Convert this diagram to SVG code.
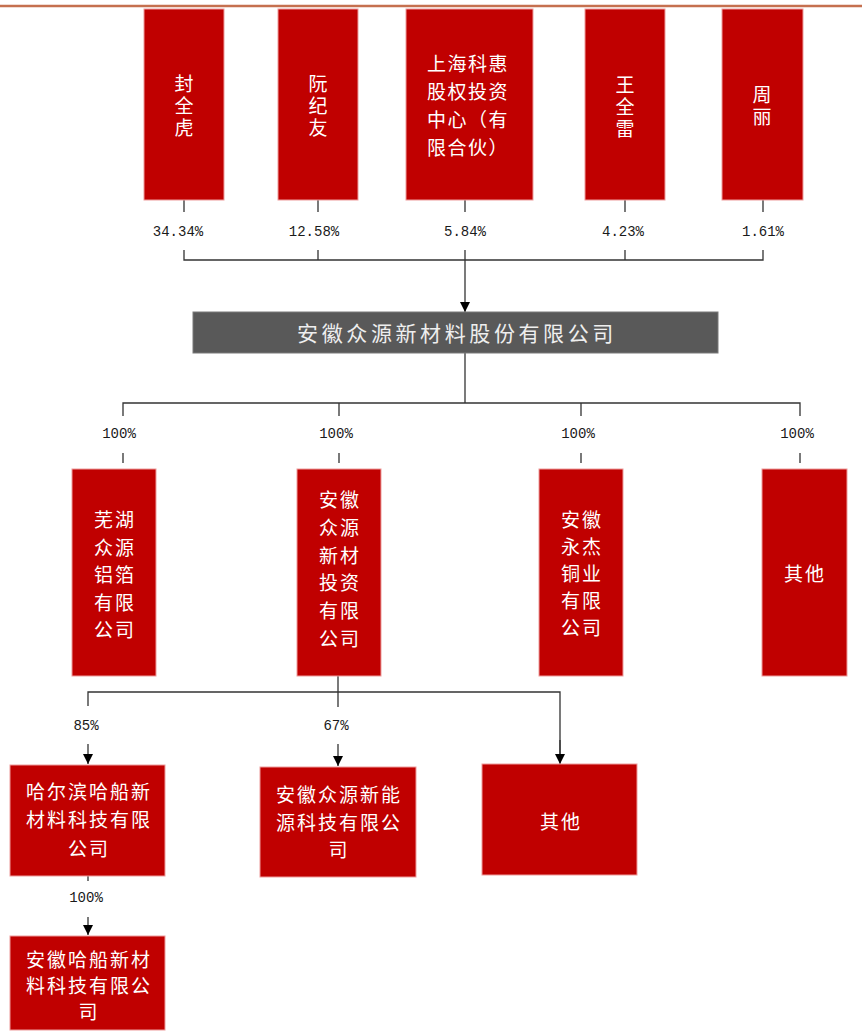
<svg xmlns="http://www.w3.org/2000/svg" width="862" height="1032" viewBox="0 0 862 1032">
<defs>
<marker id="arr" markerUnits="userSpaceOnUse" markerWidth="10" markerHeight="10" refX="10" refY="5" orient="auto">
<path d="M0,0 L10,5 L0,10 z" fill="#000"/>
</marker>
<style>
.red{fill:#C00000;stroke:#EE9C9C;stroke-width:1}
.gray{fill:#595959;stroke:#7a7a7a;stroke-width:1}
.cn{font-family:"Noto Sans CJK SC","Noto Sans",sans-serif;font-size:19px;fill:#FFFFFF;text-anchor:middle;dominant-baseline:central;letter-spacing:2px}
.big{font-family:"Noto Sans CJK SC","Noto Sans",sans-serif;font-size:21px;fill:#EEEEEE;text-anchor:middle;dominant-baseline:central;letter-spacing:3.6px}
.pct{font-family:"Liberation Mono",monospace;font-size:14px;fill:#1a1a1a;text-anchor:middle}
.ln{fill:none;stroke:#333;stroke-width:1.3}
</style>
</defs>
<rect width="862" height="1032" fill="#FFFFFF"/>
<line x1="0" y1="6" x2="862" y2="6" stroke="#C5704F" stroke-width="2.5"/>

<g id="connectors">
<path class="ln" d="M184,200 V212 M318,200 V212 M465,200 V212 M625,200 V212 M763,200 V212"/>
<path class="ln" d="M184,250 V260 H763 V250 M318,250 V260 M625,250 V260 M465,250 V260"/>
<line class="ln" x1="465" y1="260" x2="465" y2="312" marker-end="url(#arr)"/>
<path class="ln" d="M465,353 V403" stroke="#555" stroke-width="1.6"/>
<path class="ln" d="M123,416 V403 H800 V416 M339,403 V416 M581,403 V416"/>
<path class="ln" d="M123,453 V463 M339,453 V463 M581,453 V463 M800,453 V463"/>
<path class="ln" d="M338,676 V707 M88,706 V692 H560 V754"/>
<line class="ln" x1="560" y1="740" x2="560" y2="764" marker-end="url(#arr)"/>
<line class="ln" x1="88" y1="744" x2="88" y2="764" marker-end="url(#arr)"/>
<line class="ln" x1="338" y1="744" x2="338" y2="766" marker-end="url(#arr)"/>
<path class="ln" d="M88,876 V881"/>
<line class="ln" x1="88" y1="917" x2="88" y2="935" marker-end="url(#arr)"/>
<text class="pct" x="178" y="236">34.34%</text>
<text class="pct" x="314" y="236">12.58%</text>
<text class="pct" x="465" y="236">5.84%</text>
<text class="pct" x="623" y="236">4.23%</text>
<text class="pct" x="763" y="236">1.61%</text>
<text class="pct" x="119" y="438">100%</text>
<text class="pct" x="336" y="438">100%</text>
<text class="pct" x="578" y="438">100%</text>
<text class="pct" x="797" y="438">100%</text>
<text class="pct" x="86" y="730">85%</text>
<text class="pct" x="336" y="730">67%</text>
<text class="pct" x="86" y="902">100%</text>
</g>

<g id="n-fengquanhu">
<rect class="red" x="144" y="9" width="80" height="191"/>
<text class="cn" x="185"><tspan x="185" y="82">封</tspan><tspan x="185" y="104">全</tspan><tspan x="185" y="126">虎</tspan></text>
</g>
<g id="n-ruanjiyou">
<rect class="red" x="278" y="9" width="80" height="191"/>
<text class="cn" x="319"><tspan x="319" y="82">阮</tspan><tspan x="319" y="104">纪</tspan><tspan x="319" y="126">友</tspan></text>
</g>
<g id="n-kehui">
<rect class="red" x="406" y="9" width="127" height="191"/>
<text class="cn" style="text-anchor:start;letter-spacing:1.5px"><tspan x="427" y="62">上海科惠</tspan><tspan x="427" y="90">股权投资</tspan><tspan x="427" y="118">中心（有</tspan><tspan x="427" y="146">限合伙）</tspan></text>
</g>
<g id="n-wangquanlei">
<rect class="red" x="585" y="9" width="80" height="191"/>
<text class="cn"><tspan x="626" y="83">王</tspan><tspan x="626" y="105">全</tspan><tspan x="626" y="127">雷</tspan></text>
</g>
<g id="n-zhouli">
<rect class="red" x="722" y="9" width="81" height="191"/>
<text class="cn"><tspan x="763" y="93">周</tspan><tspan x="763" y="115">丽</tspan></text>
</g>

<g id="n-main">
<rect class="gray" x="193" y="312" width="525" height="41"/>
<text class="big" x="457" y="332">安徽众源新材料股份有限公司</text>
</g>

<g id="n-wuhu">
<rect class="red" x="72" y="469" width="84" height="207"/>
<text class="cn"><tspan x="115" y="518">芜湖</tspan><tspan x="115" y="545.5">众源</tspan><tspan x="115" y="573">铝箔</tspan><tspan x="115" y="600.5">有限</tspan><tspan x="115" y="628">公司</tspan></text>
</g>
<g id="n-touzi">
<rect class="red" x="297" y="469" width="84" height="207"/>
<text class="cn"><tspan x="340" y="498">安徽</tspan><tspan x="340" y="525.8">众源</tspan><tspan x="340" y="553.6">新材</tspan><tspan x="340" y="581.4">投资</tspan><tspan x="340" y="609.2">有限</tspan><tspan x="340" y="637">公司</tspan></text>
</g>
<g id="n-yongjie">
<rect class="red" x="539" y="469" width="84" height="207"/>
<text class="cn"><tspan x="582" y="518">安徽</tspan><tspan x="582" y="545">永杰</tspan><tspan x="582" y="572">铜业</tspan><tspan x="582" y="599">有限</tspan><tspan x="582" y="626">公司</tspan></text>
</g>
<g id="n-other1">
<rect class="red" x="762" y="469" width="85" height="207"/>
<text class="cn" x="805" y="572">其他</text>
</g>

<g id="n-harbin">
<rect class="red" x="10" y="765" width="155" height="111"/>
<text class="cn"><tspan x="89" y="790">哈尔滨哈船新</tspan><tspan x="89" y="818">材料科技有限</tspan><tspan x="89" y="847">公司</tspan></text>
</g>
<g id="n-xinneng">
<rect class="red" x="260" y="767" width="156" height="110"/>
<text class="cn"><tspan x="339" y="793">安徽众源新能</tspan><tspan x="339" y="821">源科技有限公</tspan><tspan x="339" y="848">司</tspan></text>
</g>
<g id="n-other2">
<rect class="red" x="482" y="764" width="155" height="111"/>
<text class="cn" x="561" y="820">其他</text>
</g>
<g id="n-hachuan">
<rect class="red" x="10" y="936" width="155" height="94"/>
<text class="cn"><tspan x="89" y="958">安徽哈船新材</tspan><tspan x="89" y="984">料科技有限公</tspan><tspan x="89" y="1010">司</tspan></text>
</g>
</svg>
